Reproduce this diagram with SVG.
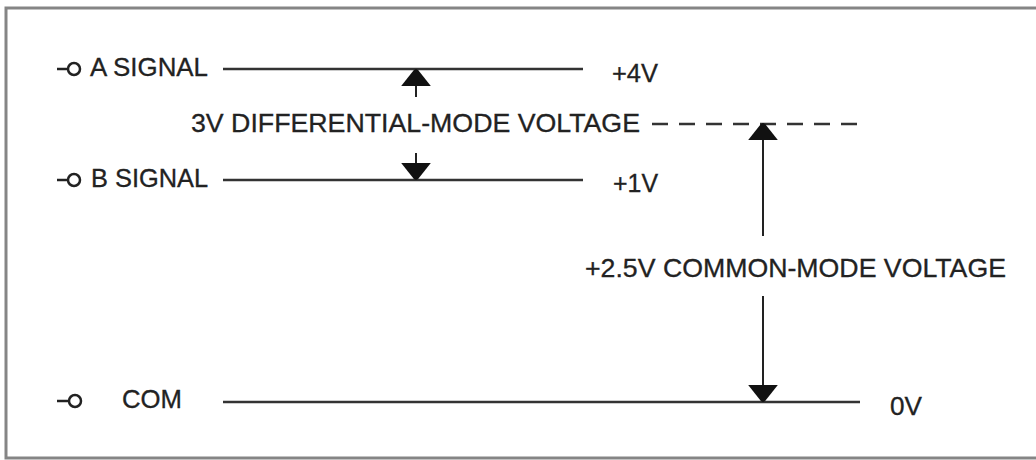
<svg xmlns="http://www.w3.org/2000/svg" width="1036" height="460" viewBox="0 0 1036 460">
  <defs>
    <style>
      .lbl { font-family: "Liberation Sans", Arial, sans-serif; font-size: 25px; fill: #222; stroke: #222; stroke-width: 0.3; }
      .bus { stroke: #333; stroke-width: 2.4; fill: none; }
      .term { stroke: #222; stroke-width: 2.5; fill: #fff; }
      .arr { stroke: #222; stroke-width: 2; fill: none; marker-end: url(#ah); }
      .dash { stroke: #333; stroke-width: 2.4; stroke-dasharray: 16 11; fill: none; }
    </style>
    <marker id="ah" markerUnits="userSpaceOnUse" markerWidth="18" markerHeight="32" viewBox="0 -15 17 30" refX="16" refY="0" orient="auto">
      <path d="M0,-14 L15,-2 L16,0 L15,2 L0,14 z" fill="#111"/>
    </marker>
  </defs>
  <rect x="6" y="8" width="1040" height="450" fill="#fff" stroke="#858585" stroke-width="3"/>

  <g id="node-a-signal">
    <line x1="57" y1="69" x2="68" y2="69" class="term"/>
    <circle cx="74" cy="69" r="6" class="term"/>
    <text x="90" y="76" class="lbl" textLength="118" lengthAdjust="spacingAndGlyphs">A SIGNAL</text>
    <line x1="223" y1="69" x2="583" y2="69" class="bus"/>
    <text x="612" y="82" class="lbl" textLength="46" lengthAdjust="spacingAndGlyphs">+4V</text>
  </g>

  <g id="node-b-signal">
    <line x1="57" y1="180" x2="68" y2="180" class="term"/>
    <circle cx="74" cy="180" r="6" class="term"/>
    <text x="91" y="187" class="lbl" textLength="117" lengthAdjust="spacingAndGlyphs">B SIGNAL</text>
    <line x1="223" y1="180" x2="583" y2="180" class="bus"/>
    <text x="613" y="192" class="lbl" textLength="45" lengthAdjust="spacingAndGlyphs">+1V</text>
  </g>

  <g id="node-com">
    <line x1="57" y1="401" x2="68" y2="401" class="term"/>
    <circle cx="75" cy="401" r="6" class="term"/>
    <text x="122" y="408" class="lbl" textLength="60" lengthAdjust="spacingAndGlyphs">COM</text>
    <line x1="223" y1="402" x2="860" y2="402" class="bus"/>
    <text x="890" y="415" class="lbl" textLength="32" lengthAdjust="spacingAndGlyphs">0V</text>
  </g>

  <g id="node-differential">
    <text x="191" y="132" class="lbl" textLength="449" lengthAdjust="spacingAndGlyphs">3V DIFFERENTIAL-MODE VOLTAGE</text>
    <line x1="652" y1="124" x2="860" y2="124" class="dash"/>
  </g>

  <g id="node-common-mode">
    <text x="585" y="277" class="lbl" textLength="421" lengthAdjust="spacingAndGlyphs">+2.5V COMMON-MODE VOLTAGE</text>
  </g>

  <g id="connectors">
    <line x1="416" y1="97" x2="416" y2="69" class="arr"/>
    <line x1="416" y1="153" x2="416" y2="180" class="arr"/>
    <line x1="763" y1="236" x2="763" y2="123" class="arr"/>
    <line x1="763" y1="296" x2="763" y2="402" class="arr"/>
  </g>
</svg>
